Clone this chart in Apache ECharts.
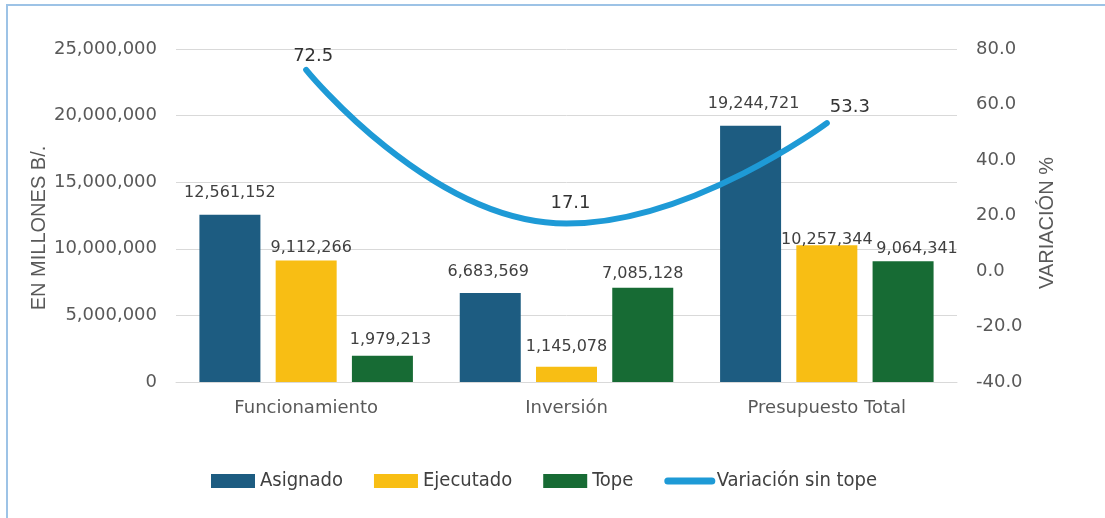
<!DOCTYPE html>
<html>
<head>
<meta charset="utf-8">
<script src="https://cdn.jsdelivr.net/npm/echarts@6/dist/echarts.min.js"></script>
<style>
  html, body { margin: 0; padding: 0; background: #fff; overflow: hidden; }
  #frame { position: absolute; left: 6px; top: 4px; width: 1300px; height: 700px; border: 2px solid #9DC3E6; box-sizing: border-box; }
  #chart { position: absolute; left: 0; top: 0; width: 1105px; height: 518px; }
</style>
</head>
<body>
<div id="frame"></div>
<div id="chart"></div>
<script>
const categories = ['Funcionamiento', 'Inversión', 'Presupuesto Total'];
const asignado = [12561152, 6683569, 19244721];
const ejecutado = [9112266, 1145078, 10257344];
const tope = [1979213, 7085128, 9064341];
const variacion = [72.5, 17.1, 53.3];
const leftTicks = { min: 0, max: 25000000, interval: 5000000 };
const rightTicks = { min: -40, max: 80, interval: 20 };

// label nudges (layout only, not data)
const asignadoNudge = [[0, -9], [-2, -8], [3, -9]];
const ejecutadoNudge = [[5, 0], [0, -7], [0, 7.5]];
const topeNudge = [[8, -3], [0, -1], [14, 1]];
const lineNudge = [[7, 1], [4, -6], [23, -1]];

const fmtInt = v => Math.round(v).toLocaleString('en-US');

function withLabels(values, nudges) {
  return values.map((v, i) => ({ value: v, label: { offset: nudges[i] } }));
}

const barLabel = {
  show: true, position: 'top', distance: 5,
  fontFamily: 'DejaVu Sans', fontSize: 16, color: '#404040',
  formatter: p => fmtInt(p.value)
};

const chart = echarts.init(document.getElementById('chart'), null, { renderer: 'canvas' });
chart.setOption({
  animation: false,
  backgroundColor: 'transparent',
  grid: { left: 176, right: 148, top: 49, bottom: 136 },
  legend: {
    left: 211, top: 471, padding: 0,
    itemWidth: 44, itemHeight: 14, itemGap: 31,
    textStyle: { fontFamily: 'DejaVu Sans Condensed', fontSize: 20, color: '#404040' },
    data: [
      { name: 'Asignado', icon: 'rect' },
      { name: 'Ejecutado', icon: 'rect' },
      { name: 'Tope', icon: 'rect' },
      { name: 'Variación sin tope', itemStyle: { opacity: 0 }, lineStyle: { width: 7, cap: 'round', color: '#1E9AD6' } }
    ]
  },
  xAxis: {
    type: 'category', data: categories,
    axisLine: { show: true, lineStyle: { color: '#D9D9D9', width: 1 } },
    axisTick: { show: false },
    axisLabel: { fontFamily: 'DejaVu Sans', fontSize: 18, color: '#595959', margin: 17 }
  },
  yAxis: [
    {
      type: 'value', min: leftTicks.min, max: leftTicks.max, interval: leftTicks.interval,
      name: 'EN MILLONES B/.', nameLocation: 'middle', nameRotate: 90, nameGap: 127,
      nameMoveOverlap: false,
      nameTextStyle: { fontFamily: 'Liberation Sans', fontSize: 20, color: '#595959', padding: [0, 25, 0, 0] },
      axisLine: { show: false }, axisTick: { show: false },
      axisLabel: { fontFamily: 'DejaVu Sans', fontSize: 18, color: '#595959', margin: 19, formatter: v => fmtInt(v) },
      splitLine: { lineStyle: { color: '#D9D9D9', width: 1 } }
    },
    {
      type: 'value', min: rightTicks.min, max: rightTicks.max, interval: rightTicks.interval,
      name: 'VARIACIÓN %', nameLocation: 'middle', nameRotate: 90, nameGap: 80,
      nameTextStyle: { fontFamily: 'Liberation Sans', fontSize: 20, color: '#595959', padding: [0, 15, 0, 0] },
      axisLine: { show: false }, axisTick: { show: false },
      axisLabel: { fontFamily: 'DejaVu Sans', fontSize: 18, color: '#595959', margin: 19, formatter: v => v.toFixed(1) },
      splitLine: { show: false }
    }
  ],
  series: [
    {
      name: 'Asignado', type: 'bar', yAxisIndex: 0, barWidth: 61, barGap: '25%',
      itemStyle: { color: '#1D5C81' }, label: barLabel,
      data: withLabels(asignado, asignadoNudge)
    },
    {
      name: 'Ejecutado', type: 'bar', yAxisIndex: 0, barWidth: 61, barGap: '25%',
      itemStyle: { color: '#F8BE14' }, label: barLabel,
      data: withLabels(ejecutado, ejecutadoNudge)
    },
    {
      name: 'Tope', type: 'bar', yAxisIndex: 0, barWidth: 61, barGap: '25%',
      itemStyle: { color: '#176B34' }, label: barLabel,
      data: withLabels(tope, topeNudge)
    },
    {
      name: 'Variación sin tope', type: 'line', yAxisIndex: 1, smooth: 0.5,
      symbol: 'none', z: 5,
      lineStyle: { color: '#1E9AD6', width: 6, cap: 'round' },
      itemStyle: { color: '#1E9AD6' },
      data: variacion
    },
    {
      name: 'variacion-labels', type: 'scatter', yAxisIndex: 1, z: 6,
      symbolSize: 1, itemStyle: { color: 'rgba(0,0,0,0)' },
      silent: true,
      label: {
        show: true, position: 'top', distance: 5,
        fontFamily: 'DejaVu Sans', fontSize: 18, color: '#333333', opacity: 1,
        formatter: p => p.value.toFixed(1)
      },
      data: withLabels(variacion, lineNudge)
    }
  ]
});
</script>
</body>
</html>
